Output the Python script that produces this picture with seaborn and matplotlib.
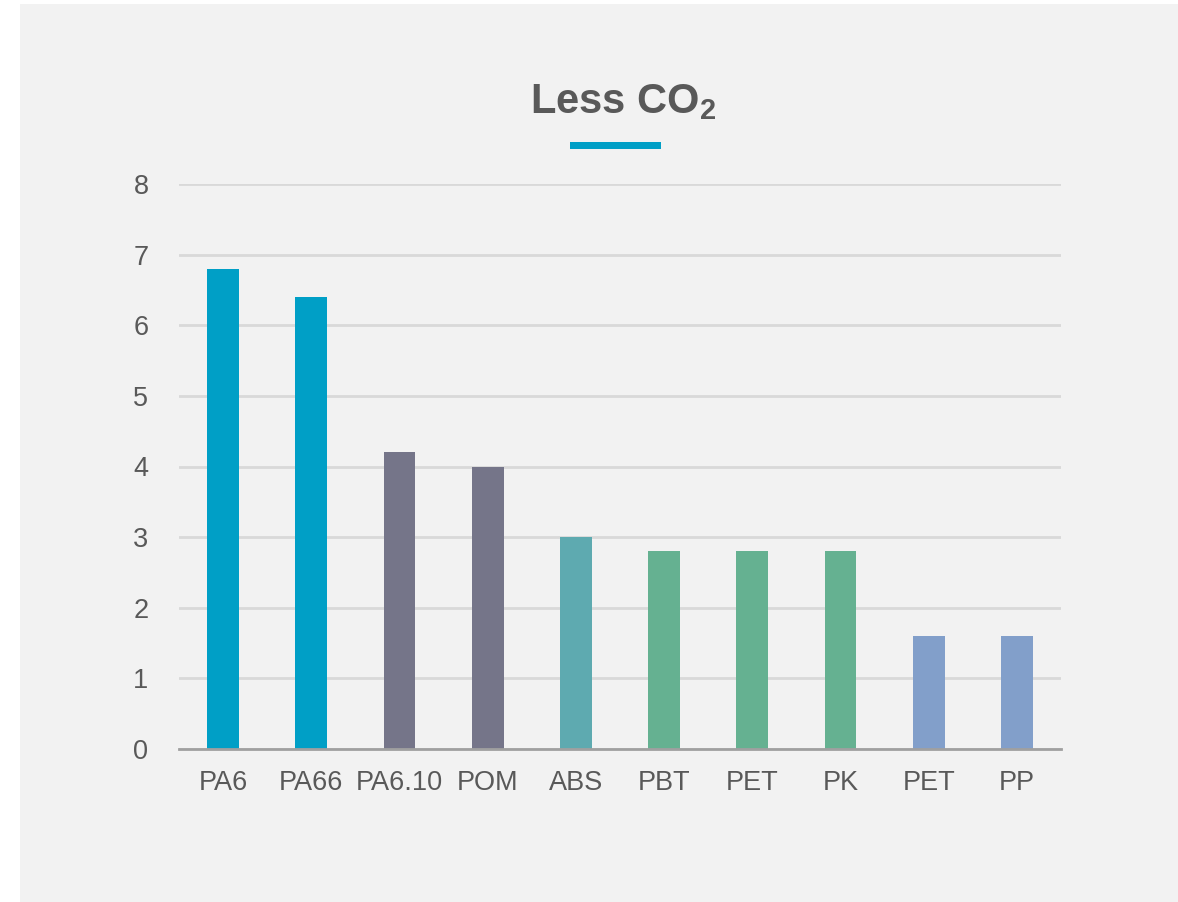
import matplotlib
matplotlib.use("Agg")
import matplotlib.pyplot as plt
from matplotlib.patches import Rectangle
import seaborn as sns
import pandas as pd

# Data
materials = ["PA6", "PA66", "PA6.10", "POM", "ABS", "PBT", "PET", "PK", "PET", "PP"]
co2_savings = [6.8, 6.4, 4.2, 4.0, 3.0, 2.8, 2.8, 2.8, 1.6, 1.6]
bar_colors = ["#009fc6", "#009fc6", "#757589", "#757589", "#5eaab0",
              "#65b191", "#65b191", "#65b191", "#829fca", "#829fca"]
y_ticks = [0, 1, 2, 3, 4, 5, 6, 7, 8]

sns.set_style("white")
plt.rcParams["font.family"] = ["Liberation Sans", "DejaVu Sans"]
plt.rcParams["mathtext.fontset"] = "custom"
plt.rcParams["mathtext.rm"] = "Liberation Sans"
plt.rcParams["mathtext.bf"] = "Liberation Sans:bold"

W, H = 1178, 902
fig = plt.figure(figsize=(W / 100, H / 100), dpi=100)
fig.patch.set_facecolor("white")

# light grey card behind the chart
fig.patches.append(Rectangle((20 / W, 0), 1 - 20 / W, 1 - 4 / H,
                             transform=fig.transFigure, facecolor="#f2f2f2",
                             edgecolor="none", zorder=-5))

ax = fig.add_axes([179 / W, 1 - 749 / H, (1061 - 179) / W, (749 - 184) / H])
ax.set_facecolor("none")
ax.set_zorder(2)

df = pd.DataFrame({"pos": [str(i) for i in range(len(materials))],
                   "value": co2_savings})
sns.barplot(data=df, x="pos", y="value", hue="pos", palette=bar_colors,
            legend=False, width=0.36, saturation=1, linewidth=0, ax=ax, zorder=3)

ax.set_xlim(-0.5, len(materials) - 0.5)
ax.set_ylim(0, 8)
ax.set_yticks(y_ticks)
ax.set_yticklabels([str(t) for t in y_ticks])
ax.set_xticks(range(len(materials)))
ax.set_xticklabels(materials)
ax.set_xlabel("")
ax.set_ylabel("")

ax.yaxis.grid(True, color="#d9d9d9", linewidth=2)
ax.set_axisbelow(True)
for side in ["top", "right", "left"]:
    ax.spines[side].set_visible(False)
ax.spines["bottom"].set_color("#a0a0a0")
ax.spines["bottom"].set_linewidth(2)
ax.spines["bottom"].set_zorder(4)

ax.tick_params(axis="both", length=0, labelsize=19.5, labelcolor="#595959")
ax.tick_params(axis="y", pad=22)
ax.tick_params(axis="x", pad=15)

# title and accent underline
fig.text(623 / W, 1 - 102 / H, r"Less CO$_\mathbf{2}$", ha="center", va="center",
         fontsize=30, fontweight="bold", color="#595959")
fig.patches.append(Rectangle((570 / W, 1 - 149 / H), 91 / W, 7 / H,
                             transform=fig.transFigure, facecolor="#009fc6",
                             edgecolor="none", zorder=2))

fig.savefig("out.png", dpi=100, facecolor=fig.get_facecolor())
